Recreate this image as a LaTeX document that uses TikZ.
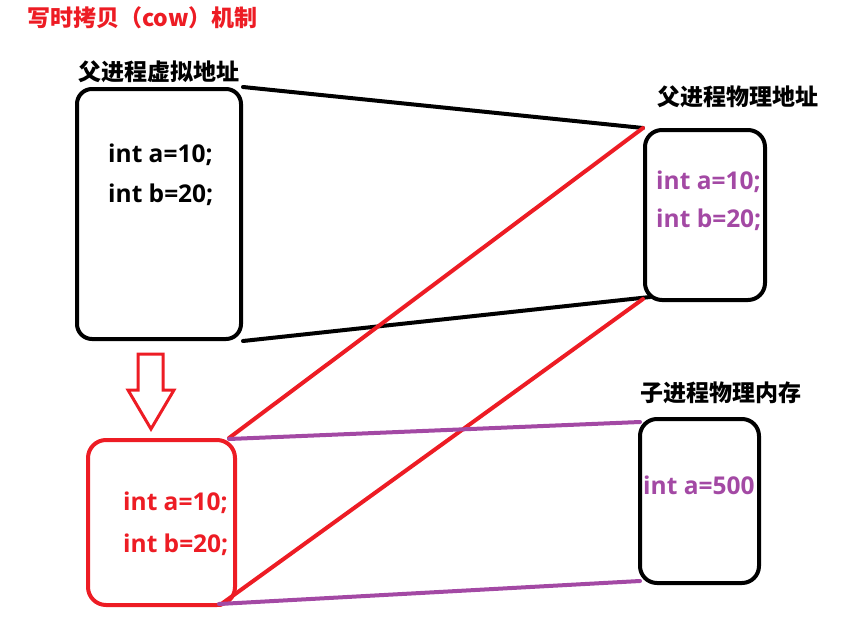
\documentclass[tikz,border=0pt]{standalone}
\usepackage{fontspec}
\setmainfont{Noto Sans CJK SC}
\newfontfamily\codefont{Open Sans}
\usetikzlibrary{calc}
\definecolor{pred}{HTML}{ED1C24}
\definecolor{ppur}{HTML}{A349A4}
\tikzset{
  box/.style={draw=black, line width=4pt, rounded corners=15pt, inner sep=0pt},
  cjklabel/.style={anchor=west, inner sep=0pt, font=\fontsize{23}{27}\selectfont\bfseries},
  code/.style={anchor=west, inner sep=0pt, font=\codefont\fontsize{24.5}{28}\selectfont\bfseries},
  link/.style={line width=4pt, line cap=round},
}
\begin{document}
\begin{tikzpicture}[x=1pt,y=-1pt]
\useasboundingbox (0,0) rectangle (844,624);
% boxes
\node[box, minimum width=164pt, minimum height=250pt] (pv) at (159,214) {};
\node[box, minimum width=120pt, minimum height=170pt, rounded corners=17pt] (pp) at (705,215) {};
\node[box, minimum width=119pt, minimum height=164pt, rounded corners=17pt] (cp) at (699.5,501) {};
\node[box, draw=pred, minimum width=147pt, minimum height=165pt, rounded corners=18pt] (cv) at (161.5,522.5) {};
% labels
\node[cjklabel, text=pred] (title) at (27,18) {写时拷贝（cow）机制};
\node[cjklabel] (lpv) at (78,72) {父进程虚拟地址};
\node[cjklabel] (lpp) at (657,97) {父进程物理地址};
\node[cjklabel] (lcp) at (640,393) {子进程物理内存};
% code texts
\node[code] (pva) at (108,155) {int a=10;};
\node[code] (pvb) at (108,195) {int b=20;};
\node[code, text=ppur] (ppa) at (656,182) {int a=10;};
\node[code, text=ppur] (ppb) at (656,220) {int b=20;};
\node[code, text=ppur] (cpa) at (643,485) {int a=500};
\node[code, text=pred] (cva) at (123,503) {int a=10;};
\node[code, text=pred] (cvb) at (123,545) {int b=20;};
% hollow arrow
\draw[pred, line width=3pt, line join=miter] (138,354) -- (163,354) -- (163,390) -- (174,390) -- (151,429) -- (128,390) -- (138,390) -- cycle;
% black links
\draw[link] (pv.north east) -- (pp.north west);
\draw[link] (pv.south east) -- ($(pp.south west)+(7,-5)$);
% red links
\draw[link, pred] ($(cv.north east)+(-8,0)$) -- (pp.north west);
\draw[link, pred] ($(cv.south east)+(-17,-2)$) -- ($(pp.south west)+(0,-3)$);
% purple links
\draw[link, ppur] ($(cv.north east)+(-8,1)$) -- ($(cp.north west)+(2,5)$);
\draw[link, ppur] ($(cv.south east)+(-18,-3)$) -- ($(cp.south west)+(2,-4)$);
\end{tikzpicture}
\end{document}
